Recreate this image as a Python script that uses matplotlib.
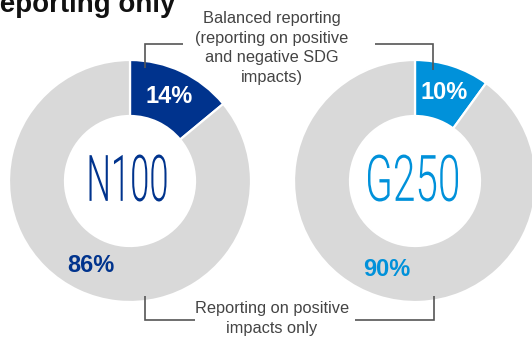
import numpy as np
import matplotlib
matplotlib.use("Agg")
import matplotlib.pyplot as plt
from matplotlib.textpath import TextPath
from matplotlib.patches import PathPatch
from matplotlib.font_manager import FontProperties
from matplotlib.transforms import Affine2D

# Share of companies by type of SDG impact reporting
groups = ["N100", "G250"]
balanced = [14, 10]          # positive and negative impacts
positive_only = [86, 90]     # positive impacts only
accent_colors = ["#00338D", "#0091DA"]
ring_grey = "#D9D9D9"
note_top = "Balanced reporting\n(reporting on positive\nand negative SDG\nimpacts)"
note_bottom = "Reporting on positive\nimpacts only"
title_text = "reporting only"

W, H = 532, 337
fig = plt.figure(figsize=(W / 100, H / 100), dpi=100)
ax = fig.add_axes([0, 0, 1, 1])

def py(y):
    """Convert a top-down pixel row to axis coordinates."""
    return H - y

centers = [(130, 181), (415, 181)]
outer_r, inner_r = 121, 65
ring_w = outer_r - inner_r

for (cx, cy), name, b, p, col in zip(centers, groups, balanced, positive_only, accent_colors):
    wedges, _ = ax.pie([b, p], startangle=90, counterclock=False, radius=outer_r,
                       center=(cx, py(cy)), colors=[col, ring_grey],
                       wedgeprops=dict(width=ring_w, edgecolor="white", linewidth=1.6))
    # value labels at the middle of each ring segment
    mid_r = outer_r - ring_w / 2
    for w, val, tcol in zip(wedges, [b, p], ["white", col]):
        ang = np.deg2rad((w.theta1 + w.theta2) / 2)
        ax.text(cx + mid_r * np.cos(ang), py(cy) + mid_r * np.sin(ang), f"{val}%",
                ha="center", va="center", color=tcol, fontsize=17, fontweight="bold",
                family="Liberation Sans")
    # condensed, light group name in the hole
    tp = TextPath((0, 0), name, size=60, prop=FontProperties(family="Roboto", weight=300))
    bb = tp.get_extents()
    tw, th = (77 if name == "N100" else 90), 47
    tr = (Affine2D().translate(-bb.x0 - bb.width / 2, -bb.y0 - bb.height / 2)
          .scale(tw / bb.width, th / bb.height).translate(cx - 2, py(cy - 3)))
    ax.add_patch(PathPatch(tr.transform_path(tp), facecolor=col, edgecolor="none"))

line_kw = dict(color="#555555", lw=1.2, solid_capstyle="butt", solid_joinstyle="miter")
# top brackets
ax.plot([145, 145, 183], [py(68), py(44), py(44)], **line_kw)
ax.plot([375, 433, 433], [py(44), py(44), py(70)], **line_kw)
# bottom brackets
ax.plot([145, 145, 195], [py(296), py(320), py(320)], **line_kw)
ax.plot([355, 434, 434], [py(320), py(320), py(296)], **line_kw)

ax.text(272, py(48), note_top, ha="center", va="center", fontsize=11.8,
        color="#444444", linespacing=1.4, family="Liberation Sans")
ax.text(272, py(318.5), note_bottom, ha="center", va="center", fontsize=11.8,
        color="#444444", linespacing=1.4, family="Liberation Sans")

ax.text(175, py(12), title_text, ha="right", va="baseline", fontsize=20,
        fontweight="bold", color="#111111", family="Liberation Sans")

ax.set_xlim(0, W)
ax.set_ylim(0, H)
ax.set_aspect("equal", adjustable="box")
ax.axis("off")

fig.savefig("out.png", dpi=100, facecolor="white")
